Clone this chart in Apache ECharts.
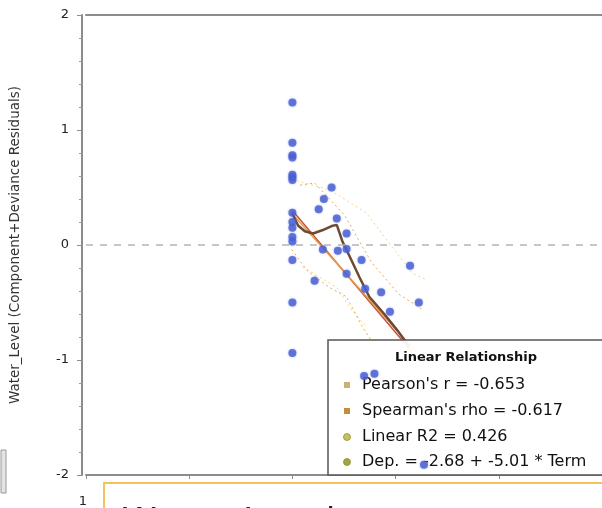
<!DOCTYPE html>
<html>
<head>
<meta charset="utf-8">
<script src="https://cdn.jsdelivr.net/npm/echarts@6/dist/echarts.min.js"></script>
<style>
  html, body { margin: 0; padding: 0; background: #fff; }
  #chart { width: 602px; height: 508px; }
</style>
</head>
<body>
<div id="chart"></div>
<script>
// residual points (Term vs Water_Level component+deviance residuals)
const termX = [
  -0.6, -0.6, -0.6, -0.6, -0.6, -0.6, -0.6, -0.6, -0.6, -0.6, -0.6, -0.6, -0.6, -0.6, -0.6,
  -0.524, -0.539, -0.549, -0.514, -0.495, -0.541, -0.512, -0.495, -0.466, -0.372,
  -0.557, -0.495, -0.459, -0.428, -0.355, -0.411, -0.461, -0.441, -0.345
]
const residY = [
  1.24, 0.89, 0.78, 0.76, 0.61, 0.59, 0.565, 0.28, 0.20, 0.15, 0.07, 0.03, -0.13, -0.50, -0.94,
  0.50, 0.40, 0.31, 0.23, 0.10, -0.04, -0.05, -0.035, -0.13, -0.18,
  -0.31, -0.25, -0.38, -0.41, -0.50, -0.58, -1.14, -1.12, -1.91
]
// fitted lines
const redFitX = [-0.6, -0.368]
const redFitY = [0.30, -0.93]
const orangeFitX = [-0.6, -0.36]
const orangeFitY = [0.27, -0.93]
// smoother
const loessX = [-0.601, -0.589, -0.576, -0.560, -0.541, -0.524, -0.514, -0.509, -0.503, -0.489, -0.470, -0.451, -0.422, -0.397, -0.374]
const loessY = [0.28, 0.17, 0.12, 0.10, 0.13, 0.165, 0.175, 0.11, 0.03, -0.10, -0.28, -0.45, -0.60, -0.74, -0.88]
// confidence bands
const bandUpX = [-0.585, -0.557, -0.499, -0.447, -0.393, -0.345]
const bandUpY = [0.52, 0.54, 0.26, -0.15, -0.43, -0.57]
const bandLoX = [-0.601, -0.572, -0.528, -0.495, -0.466, -0.447]
const bandLoY = [-0.04, -0.22, -0.37, -0.45, -0.70, -0.83]
const predUpX = [-0.601, -0.528, -0.489, -0.457, -0.369, -0.342]
const predUpY = [0.57, 0.48, 0.37, 0.28, -0.24, -0.30]
const predLoX = [-0.580, -0.514, -0.484, -0.457]
const predLoY = [-0.19, -0.37, -0.57, -0.71]
// legend texts
const legendTitle = 'Linear Relationship'
const statLabels = ["Pearson's r = -0.653", "Spearman's rho = -0.617", 'Linear R2 = 0.426', 'Dep. = -2.68 + -5.01 * Term']
const statColors = ['#c9b173', '#c98b3c', '#c4c25a', '#a3a443']

const FONT = 'DejaVu Sans'
const zip = (xs, ys) => xs.map((x, i) => [x, ys[i]])

const chart = echarts.init(document.getElementById('chart'))

const lineSeries = (data, color, width, type, z) => ({
  type: 'line',
  data,
  symbol: 'none',
  smooth: false,
  z: z || 2,
  silent: true,
  lineStyle: { color, width, type }
})

// legend box drawn as graphic, below the points
const legendEls = [
  {
    type: 'rect', z: 3,
    shape: { x: 328, y: 340, width: 290, height: 135 },
    style: { fill: 'rgba(255,255,255,0.93)', stroke: '#555', lineWidth: 1.5 }
  },
  {
    type: 'text', z: 3, x: 466, y: 358,
    style: { text: legendTitle, font: 'bold 13px "' + FONT + '"', fill: '#111', align: 'center', verticalAlign: 'middle' }
  }
]
const rowY = [385, 411, 437, 462]
statLabels.forEach((t, i) => {
  if (i < 2) {
    legendEls.push({ type: 'rect', z: 3, shape: { x: 344, y: rowY[i] - 3, width: 6, height: 6 }, style: { fill: statColors[i] } })
  } else {
    legendEls.push({ type: 'circle', z: 3, shape: { cx: 347, cy: rowY[i], r: 3.5 }, style: { fill: statColors[i], stroke: '#8f8f35', lineWidth: 0.8 } })
  }
  legendEls.push({
    type: 'text', z: 3, x: 362, y: rowY[i],
    style: { text: t, font: '16px "' + FONT + '"', fill: '#111', align: 'left', verticalAlign: 'middle' }
  })
})

const axisGray = '#8c8c8c'

const option = {
  animation: false,
  backgroundColor: '#fff',
  grid: { left: 84, right: -3, top: 15, bottom: 33 },
  xAxis: [
    {
      type: 'value', position: 'bottom', min: -1, max: 0, interval: 0.2,
      axisLine: { show: true, onZero: false, lineStyle: { color: axisGray, width: 2 } },
      axisTick: { show: true, length: 4, lineStyle: { color: axisGray } },
      axisLabel: { show: false },
      splitLine: { show: false }
    },
    {
      type: 'value', position: 'top', min: -1, max: 0, interval: 0.2,
      axisLine: { show: true, onZero: false, lineStyle: { color: axisGray, width: 2 } },
      axisTick: { show: false },
      axisLabel: { show: false },
      splitLine: { show: false }
    }
  ],
  yAxis: {
    type: 'value', position: 'left', min: -2, max: 2, interval: 1, offset: 4,
    name: 'Water_Level (Component+Deviance Residuals)',
    nameLocation: 'middle', nameGap: 60,
    nameTextStyle: { fontFamily: FONT, fontSize: 13.5, color: '#333' },
    axisLine: { show: true, onZero: false, lineStyle: { color: axisGray, width: 2 } },
    axisTick: { show: true, length: 5, lineStyle: { color: axisGray } },
    minorTick: { show: true, splitNumber: 5, length: 3, lineStyle: { color: '#9a9a9a' } },
    axisLabel: { fontFamily: FONT, fontSize: 13, color: '#222', margin: 13 },
    splitLine: { show: false }
  },
  series: [
    lineSeries(zip(predUpX, predUpY), '#f3dc74', 1, [2, 3]),
    lineSeries(zip(predLoX, predLoY), '#f3dc74', 1, [2, 3]),
    lineSeries(zip(bandUpX, bandUpY), '#f0a850', 1, [2, 3]),
    lineSeries(zip(bandLoX, bandLoY), '#f0a850', 1, [2, 3]),
    lineSeries(zip(redFitX, redFitY), '#c2533d', 1.5, 'solid'),
    lineSeries(zip(orangeFitX, orangeFitY), '#e99c45', 1.5, 'solid'),
    lineSeries(zip(loessX, loessY), '#6f4a32', 2.5, 'solid'),
    {
      type: 'scatter',
      data: zip(termX, residY),
      symbol: 'circle',
      symbolSize: 8,
      z: 4,
      itemStyle: { color: '#4a60d4', shadowBlur: 2, shadowColor: 'rgba(74,96,212,0.6)' },
      markLine: {
        silent: true,
        symbol: ['none', 'none'],
        label: { show: false },
        lineStyle: { color: '#b4b4b4', width: 1.5, type: [7, 7] },
        data: [{ yAxis: 0 }]
      }
    }
  ],
  graphic: legendEls.concat([
    // side bits of the screenshot around the chart
    {
      type: 'rect', z: 10,
      shape: { x: 1, y: 450, width: 5, height: 43 },
      style: { fill: '#e4e4e4', stroke: '#9a9a9a', lineWidth: 1 }
    },
    {
      type: 'rect', z: 10,
      shape: { x: 104, y: 483, width: 520, height: 40 },
      style: { fill: '#fff', stroke: '#f6c05c', lineWidth: 2 }
    },
    {
      type: 'text', z: 11, x: 122, y: 524,
      style: { text: 'Water_Level', font: '35px "' + FONT + '"', fill: '#222', align: 'left', verticalAlign: 'middle' }
    },
    {
      type: 'text', z: 11, x: 83, y: 502,
      style: { text: '1', font: '13px "' + FONT + '"', fill: '#222', align: 'center', verticalAlign: 'middle' }
    }
  ])
}
chart.setOption(option)
</script>
</body>
</html>
